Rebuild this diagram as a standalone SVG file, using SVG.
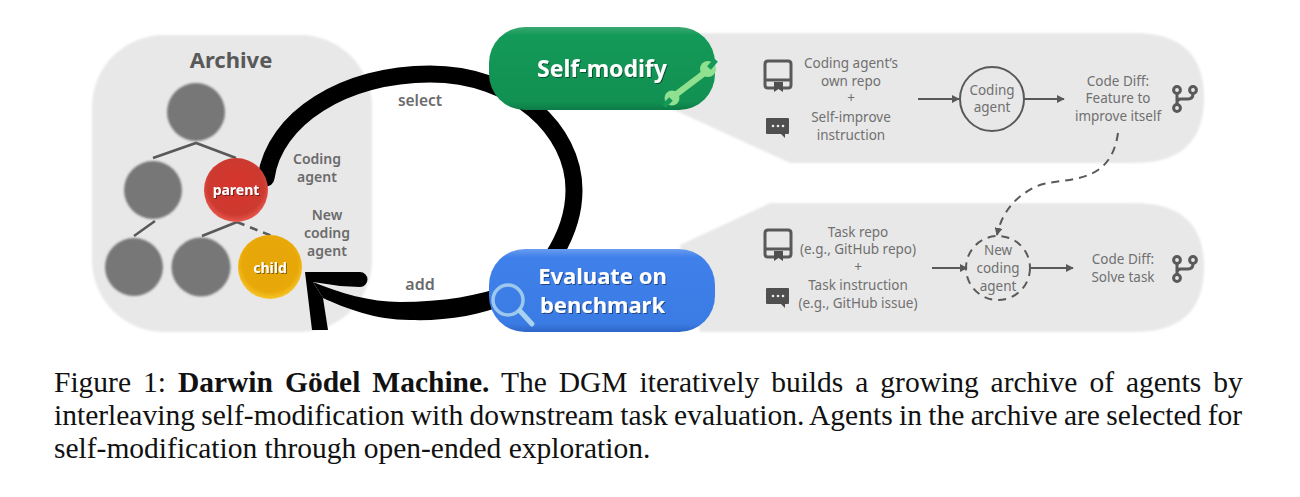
<svg xmlns="http://www.w3.org/2000/svg" width="1300" height="497" viewBox="0 0 1300 497">
<style>
text{font-family:"Noto Sans","Open Sans",sans-serif}
.panel{fill:#e8e8e8}
.lbl{font-weight:600;fill:#6b6b6b;font-size:14px;text-anchor:middle}
.t{fill:#707070;font-size:13.5px;text-anchor:middle}
.btn{fill:#fff;font-weight:700;font-size:23px;text-anchor:middle}
.small{fill:#fff;font-weight:700;font-size:14px;text-anchor:middle}
.cap{font-family:"Liberation Serif",serif;font-size:29.5px;fill:#111}
.tree{stroke:#595959;stroke-width:2.6;fill:none}
.gray{fill:#777;filter:url(#soft)}
.flow{stroke:#595959;stroke-width:2;fill:none}
.dash{stroke:#595959;stroke-width:2;fill:none;stroke-dasharray:8 6}
.ic{fill:none;stroke:#595959;stroke-width:3;stroke-linecap:round;stroke-linejoin:round}
.icf{fill:#4f4f4f}
</style>
<defs>
<filter id="soft"><feGaussianBlur stdDeviation="1"/></filter>
<filter id="ts" x="-10%" y="-20%" width="120%" height="140%"><feDropShadow dx="1" dy="1" stdDeviation="0.7" flood-color="#000" flood-opacity="0.45"/></filter>
<radialGradient id="red" cx="50%" cy="45%" r="55%"><stop offset="0" stop-color="#d8342c"/><stop offset="0.8" stop-color="#cc3a30"/><stop offset="1" stop-color="#e8584e"/></radialGradient>
<radialGradient id="yel" cx="50%" cy="45%" r="55%"><stop offset="0" stop-color="#e6a50a"/><stop offset="0.8" stop-color="#e8a808"/><stop offset="1" stop-color="#f7c52a"/></radialGradient>
<linearGradient id="grn" x1="0" y1="0" x2="0" y2="1"><stop offset="0" stop-color="#3aa872"/><stop offset="0.1" stop-color="#149a58"/><stop offset="0.9" stop-color="#119052"/><stop offset="1" stop-color="#0c7c46"/></linearGradient>
<linearGradient id="blu" x1="0" y1="0" x2="0" y2="1"><stop offset="0" stop-color="#6a9cf0"/><stop offset="0.1" stop-color="#3f80ea"/><stop offset="0.9" stop-color="#3b7be4"/><stop offset="1" stop-color="#2d66c8"/></linearGradient>
<g id="repo"><path class="ic" d="M-4 27H-10Q-13 27 -13 24V3Q-13 0 -10 0H10Q13 0 13 3V24Q13 27 10 27H5M-13 19H13"/><path class="icf" d="M-4 21H5V31L0.500 28L-4 31Z"/></g>
<g id="chat"><path class="icf" d="M-11 0H10Q11 0 11 1V15Q11 16 10 16H7V20L3 16H-11Q-12 16 -12 15V1Q-12 0 -11 0Z"/><circle cx="-5" cy="8" r="1.300" fill="#eee"/><circle cx="0" cy="8" r="1.300" fill="#eee"/><circle cx="5" cy="8" r="1.300" fill="#eee"/></g>
<g id="branch"><circle cx="-7" cy="-8" r="3.400" class="ic"/><circle cx="-7" cy="10" r="3.400" class="ic"/><circle cx="9" cy="-8" r="3.400" class="ic"/><path class="ic" d="M-7 -4.500V6.500M-7 5Q-7 1 -3 1H4Q9 1 9 -4.500"/></g>
<marker id="ah" viewBox="0 0 10 10" refX="9" refY="5" markerWidth="8" markerHeight="8" markerUnits="userSpaceOnUse" orient="auto"><path d="M0 0L10 5L0 10Z" fill="#595959"/></marker>
</defs>

<g id="panels" filter="url(#soft)">
<rect id="archive-panel" class="panel" x="92" y="35" width="280" height="297" rx="72"/>
<path id="top-panel" class="panel" d="M700 33H1134Q1204 33 1204 98Q1204 163 1134 163H790L670 108Z"/>
<path id="bottom-panel" class="panel" d="M680 245L770 203H1134Q1204 203 1204 267Q1204 332 1134 332H700Z"/>
</g>

<g id="connectors">
<path id="loop-select" d="M266 178C274 118 345 74 430 74C515 74 574 130 574 190C574 215 565 238 552 258" fill="none" stroke="#000" stroke-width="17" stroke-linecap="round"/>
<path id="loop-add" d="M555 252C530 285 470 302 400 302C370 302 340 293 313 282L323 298C345 308 375 320 410 320C470 322 530 305 570 260Z" fill="#000"/>
<path id="add-head" d="M305 272H360A7.500 7.500 0 0 1 360 287L340 286L313 282L323 298L328 330H312Z" fill="#000"/>
<path class="tree" d="M153 158L196 143L236 158M134 236L155 221M202 236L237 222"/>
<path class="tree" stroke-dasharray="8 6" d="M237 222L272 236"/>
<path class="flow" marker-end="url(#ah)" d="M918 99H959"/>
<path class="flow" marker-end="url(#ah)" d="M1024 99H1064"/>
<path class="dash" marker-end="url(#ah)" d="M1118 133C1110 190 1060 175 1035 187C1015 197 1002 212 997 235"/>
<path class="flow" marker-end="url(#ah)" d="M932 268H967"/>
<path class="flow" marker-end="url(#ah)" d="M1031 268H1073"/>
</g>

<g id="archive-title"><text x="231" y="68" font-size="22" font-weight="700" fill="#595959" text-anchor="middle">Archive</text></g>
<g id="node-root"><circle class="gray" cx="196" cy="112" r="29"/></g>
<g id="node-a"><circle class="gray" cx="153" cy="190" r="29"/></g>
<g id="node-b"><circle class="gray" cx="134" cy="267" r="29"/></g>
<g id="node-c"><circle class="gray" cx="201" cy="267" r="29.500"/></g>
<g id="node-parent"><circle cx="236" cy="190" r="32" fill="url(#red)"/><text class="small" x="236" y="195" filter="url(#ts)">parent</text></g>
<g id="node-child"><circle cx="270" cy="267" r="32" fill="url(#yel)"/><text class="small" x="270" y="273" filter="url(#ts)">child</text></g>

<g id="labels">
<text class="lbl" x="317" y="164">Coding</text><text class="lbl" x="317" y="182">agent</text>
<text class="lbl" x="327" y="220">New</text><text class="lbl" x="327" y="238">coding</text><text class="lbl" x="327" y="256">agent</text>
<text class="lbl" x="420" y="106" style="font-size:15.5px">select</text>
<text class="lbl" x="420" y="290" style="font-size:16px">add</text>
</g>

<g id="self-modify">
<rect x="489" y="27" width="226" height="83" rx="36" fill="url(#grn)"/>
<text class="btn" x="602" y="77" filter="url(#ts)">Self-modify</text>
<path d="M674 96L707 71" stroke="#8fe08f" stroke-width="6" fill="none"/>
<circle cx="708" cy="69" r="8" fill="#8fe08f"/><circle cx="672" cy="98" r="7.500" fill="#8fe08f"/>
<path d="M709 68L716 60M671 99L664 106" stroke="#149a58" stroke-width="5" fill="none"/>
</g>
<g id="evaluate">
<rect x="489" y="249" width="226" height="83" rx="36" fill="url(#blu)"/>
<text class="btn" x="602.500" y="284" filter="url(#ts)" style="font-size:22px">Evaluate on</text>
<text class="btn" x="602.500" y="313" filter="url(#ts)" style="font-size:22px">benchmark</text>
<circle cx="508" cy="300" r="15" fill="none" stroke="#9cc8ee" stroke-width="3.500"/>
<path d="M520 311L532 324" stroke="#a8d2f0" stroke-width="5" stroke-linecap="round"/>
</g>

<g id="step-top-input">
<use href="#repo" x="778" y="61"/><use href="#chat" x="778" y="118"/>
<text class="t" x="851" y="68">Coding agent’s</text><text class="t" x="851" y="86">own repo</text><text class="t" x="851" y="103">+</text><text class="t" x="851" y="122">Self-improve</text><text class="t" x="851" y="140">instruction</text>
</g>
<g id="node-coding-agent"><circle cx="992" cy="99" r="32" fill="none" stroke="#595959" stroke-width="2"/><text class="t" x="992" y="95">Coding</text><text class="t" x="992" y="112">agent</text></g>
<g id="step-top-output"><text class="t" x="1118" y="86">Code Diff:</text><text class="t" x="1118" y="103">Feature to</text><text class="t" x="1118" y="121">improve itself</text><use href="#branch" x="1184" y="98"/></g>

<g id="step-bottom-input">
<use href="#repo" x="778" y="230"/><use href="#chat" x="778" y="288"/>
<text class="t" x="858" y="237">Task repo</text><text class="t" x="858" y="254">(e.g., GitHub repo)</text><text class="t" x="858" y="272">+</text><text class="t" x="858" y="290">Task instruction</text><text class="t" x="858" y="308">(e.g., GitHub issue)</text>
</g>
<g id="node-new-agent"><circle cx="998" cy="268" r="32" fill="none" stroke="#595959" stroke-width="2" stroke-dasharray="8 6"/><text class="t" x="998" y="255">New</text><text class="t" x="998" y="273">coding</text><text class="t" x="998" y="291">agent</text></g>
<g id="step-bottom-output"><text class="t" x="1123" y="264">Code Diff:</text><text class="t" x="1123" y="282">Solve task</text><use href="#branch" x="1184" y="268"/></g>

<g id="caption">
<text class="cap" x="54" y="392" word-spacing="4.600">Figure 1: <tspan font-weight="700">Darwin Gödel Machine.</tspan> The DGM iteratively builds a growing archive of agents by</text>
<text class="cap" x="54" y="425" word-spacing="-1">interleaving self-modification with downstream task evaluation. Agents in the archive are selected for</text>
<text class="cap" x="54" y="458">self-modification through open-ended exploration.</text>
</g>
</svg>
